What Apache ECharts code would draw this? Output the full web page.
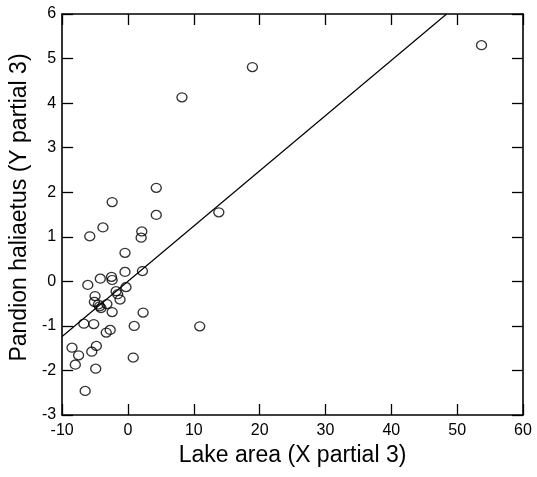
<!DOCTYPE html>
<html>
<head>
<meta charset="utf-8">
<script src="https://cdn.jsdelivr.net/npm/echarts@6/dist/echarts.min.js"></script>
<style>
  html, body { margin: 0; padding: 0; background: #fff; }
  #chart { width: 537px; height: 477px; }
</style>
</head>
<body>
<div id="chart"></div>
<script>
'use strict';

// lake area partial residuals (x) and Pandion haliaetus partial residuals (y)
const lakeArea = [
  8.2, 18.9, 53.7, 4.3, 4.3, -2.4, -3.8, -5.8, 2.1, 2.0, 13.8,
  -0.45, 2.2, -0.45, -2.5, -2.4, -4.2, -6.1, -0.3, -1.8, -1.56, -1.2,
  -5.0, -5.1, -4.5, -4.3, -4.1, -3.2, -2.4, 2.3, -6.7, -5.2, 0.95, 10.9,
  -2.7, -3.3, -8.5, -4.8, -5.5, -7.5, -8.0, 0.8, -4.9, -6.5
];
const pandion = [
  4.13, 4.81, 5.30, 2.10, 1.49, 1.78, 1.21, 1.01, 1.12, 0.98, 1.55,
  0.64, 0.23, 0.21, 0.10, 0.03, 0.06, -0.08, -0.13, -0.22, -0.29, -0.41,
  -0.33, -0.46, -0.52, -0.56, -0.60, -0.51, -0.69, -0.70, -0.95, -0.96, -1.00, -1.01,
  -1.09, -1.15, -1.49, -1.45, -1.58, -1.66, -1.87, -1.71, -1.96, -2.46
];
// fitted line endpoints
const fitX = [-10, 48.4];
const fitY = [-1.24, 6];

const xTicks = { min: -10, max: 60, interval: 10 };
const yTicks = { min: -3, max: 6, interval: 1 };

const points = lakeArea.map((x, i) => [x, pandion[i]]);
const fitLine = fitX.map((x, i) => [x, fitY[i]]);

const font = 'Liberation Sans, Arial, sans-serif';
const axisLine = { show: true, onZero: false, lineStyle: { color: '#000', width: 1.6 } };
const tick = { show: true, inside: true, length: 11, lineStyle: { color: '#000', width: 1.3 } };

const chart = echarts.init(document.getElementById('chart'));
chart.setOption({
  animation: false,
  backgroundColor: '#fff',
  grid: { left: 61, right: 14, top: 14, bottom: 62 },
  xAxis: [
    {
      type: 'value', min: xTicks.min, max: xTicks.max, interval: xTicks.interval,
      name: 'Lake area (X partial 3)', nameLocation: 'middle', nameGap: 20,
      nameTextStyle: { fontFamily: font, fontSize: 23, color: '#000' },
      axisLine: axisLine, axisTick: tick,
      axisLabel: { fontFamily: font, fontSize: 16, color: '#000', margin: 8 },
      splitLine: { show: false }
    },
    {
      type: 'value', position: 'top', min: xTicks.min, max: xTicks.max, interval: xTicks.interval,
      axisLine: axisLine, axisTick: tick, axisLabel: { show: false }, splitLine: { show: false }
    }
  ],
  yAxis: [
    {
      type: 'value', min: yTicks.min, max: yTicks.max, interval: yTicks.interval,
      name: 'Pandion haliaetus (Y partial 3)', nameLocation: 'middle', nameGap: 29,
      nameTextStyle: { fontFamily: font, fontSize: 23, color: '#000', padding: [0, 0, 0, 14] },
      axisLine: axisLine, axisTick: tick,
      axisLabel: { fontFamily: font, fontSize: 16, color: '#000', margin: 6 },
      splitLine: { show: false }
    },
    {
      type: 'value', position: 'right', min: yTicks.min, max: yTicks.max, interval: yTicks.interval,
      axisLine: axisLine, axisTick: tick, axisLabel: { show: false }, splitLine: { show: false }
    }
  ],
  series: [
    {
      type: 'line',
      data: fitLine,
      symbol: 'none',
      clip: true,
      lineStyle: { color: '#000', width: 1.2 }
    },
    {
      type: 'scatter',
      data: points,
      symbol: 'circle',
      symbolSize: [10, 9],
      itemStyle: { color: 'rgba(0,0,0,0)', borderColor: '#000', borderWidth: 1.3 }
    }
  ]
});
</script>
</body>
</html>
